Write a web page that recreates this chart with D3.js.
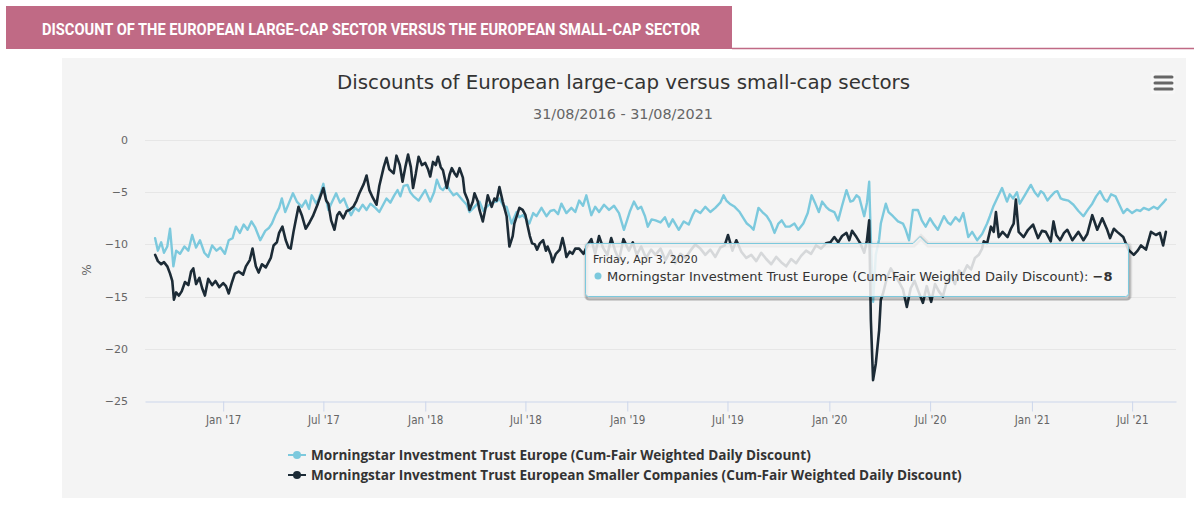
<!DOCTYPE html>
<html><head><meta charset="utf-8">
<script src="https://cdn.jsdelivr.net/npm/d3@7"></script>
<style>body{margin:0;background:#fff;} svg{display:block}</style>
</head><body><svg id="c" width="1194" height="506"></svg>
<script>
const headerTitle = "DISCOUNT OF THE EUROPEAN LARGE-CAP SECTOR VERSUS THE EUROPEAN SMALL-CAP SECTOR";
const chartTitle = "Discounts of European large-cap versus small-cap sectors";
const chartSubtitle = "31/08/2016 - 31/08/2021";
const yAxisTitle = "%";
const seriesNames = [
  "Morningstar Investment Trust Europe (Cum-Fair Weighted Daily Discount)",
  "Morningstar Investment Trust European Smaller Companies (Cum-Fair Weighted Daily Discount)"
];
const yTicks = [0, -5, -10, -15, -20, -25];
const xTickDates = ["2017-01-01","2017-07-01","2018-01-01","2018-07-01","2019-01-01","2019-07-01","2020-01-01","2020-07-01","2021-01-01","2021-07-01"];
const xRange = ["2016-08-31", "2021-08-31"];
const tooltipDate = "Friday, Apr 3, 2020";
const tooltipValue = -8;

const europe = [
["2016-08-31",-9.4],["2016-09-05",-10.6],["2016-09-11",-9.8],["2016-09-16",-10.8],["2016-09-22",-10.2],["2016-09-27",-8.5],
["2016-10-03",-12.1],["2016-10-08",-10.6],["2016-10-15",-10.9],["2016-10-23",-10.2],["2016-10-30",-10.6],["2016-11-06",-9.1],
["2016-11-13",-10.3],["2016-11-20",-9.6],["2016-11-28",-10.8],["2016-12-05",-11.2],["2016-12-12",-10.1],["2016-12-20",-10.6],
["2016-12-27",-10.3],["2017-01-04",-10.9],["2017-01-11",-9.6],["2017-01-18",-9.4],["2017-01-24",-8.3],["2017-01-31",-8.9],
["2017-02-07",-8.1],["2017-02-14",-8.6],["2017-02-21",-7.8],["2017-02-28",-8.4],["2017-03-09",-9.6],["2017-03-18",-8.7],
["2017-03-25",-8.4],["2017-03-30",-8.0],["2017-04-06",-7.1],["2017-04-12",-6.5],["2017-04-17",-5.6],["2017-04-23",-6.9],
["2017-04-30",-6.0],["2017-05-07",-5.1],["2017-05-14",-5.9],["2017-05-23",-6.4],["2017-05-30",-5.8],["2017-06-05",-6.6],
["2017-06-10",-5.3],["2017-06-18",-6.1],["2017-06-23",-5.6],["2017-07-01",-4.2],["2017-07-06",-5.7],["2017-07-10",-6.7],
["2017-07-17",-5.9],["2017-07-24",-5.1],["2017-07-31",-6.0],["2017-08-07",-5.6],["2017-08-13",-6.4],["2017-08-20",-7.2],
["2017-08-27",-6.5],["2017-09-03",-6.8],["2017-09-10",-6.2],["2017-09-17",-6.7],["2017-09-24",-6.1],["2017-10-03",-6.5],
["2017-10-10",-6.9],["2017-10-17",-6.2],["2017-10-23",-5.6],["2017-10-30",-6.0],["2017-11-06",-5.3],["2017-11-12",-4.8],
["2017-11-17",-5.4],["2017-11-23",-4.4],["2017-11-30",-4.3],["2017-12-05",-5.0],["2017-12-11",-5.4],["2017-12-20",-5.8],
["2017-12-27",-5.2],["2018-01-01",-4.8],["2018-01-10",-5.9],["2018-01-17",-5.0],["2018-01-22",-3.8],["2018-01-28",-4.6],
["2018-02-02",-4.8],["2018-02-09",-4.3],["2018-02-14",-4.8],["2018-02-21",-5.3],["2018-02-27",-5.1],["2018-03-10",-5.8],
["2018-03-17",-6.2],["2018-03-22",-6.9],["2018-03-31",-6.4],["2018-04-09",-5.9],["2018-04-16",-6.8],["2018-04-22",-6.4],
["2018-05-01",-6.0],["2018-05-10",-5.9],["2018-05-15",-5.6],["2018-05-22",-6.3],["2018-05-28",-6.4],["2018-06-06",-8.0],
["2018-06-15",-6.9],["2018-06-20",-7.4],["2018-06-26",-7.2],["2018-07-03",-7.6],["2018-07-08",-8.0],["2018-07-15",-7.0],
["2018-07-21",-7.3],["2018-07-30",-6.5],["2018-08-08",-7.3],["2018-08-15",-6.8],["2018-08-22",-6.7],["2018-08-29",-7.1],
["2018-09-04",-6.1],["2018-09-13",-7.0],["2018-09-22",-6.5],["2018-09-29",-6.9],["2018-10-06",-5.8],["2018-10-13",-6.3],
["2018-10-19",-5.3],["2018-10-28",-7.2],["2018-11-04",-6.4],["2018-11-11",-6.9],["2018-11-20",-6.2],["2018-11-29",-6.7],
["2018-12-08",-6.3],["2018-12-17",-7.0],["2018-12-26",-8.6],["2019-01-06",-6.8],["2019-01-13",-5.9],["2019-01-20",-6.6],
["2019-01-26",-6.4],["2019-02-02",-7.3],["2019-02-07",-8.3],["2019-02-14",-7.6],["2019-02-21",-7.7],["2019-03-02",-7.9],
["2019-03-10",-7.4],["2019-03-17",-8.3],["2019-03-24",-7.6],["2019-04-04",-8.6],["2019-04-13",-7.8],["2019-04-22",-8.1],
["2019-04-29",-7.2],["2019-05-04",-6.7],["2019-05-13",-7.0],["2019-05-22",-6.4],["2019-05-31",-6.9],["2019-06-09",-6.5],
["2019-06-18",-6.0],["2019-06-24",-5.3],["2019-06-29",-5.8],["2019-07-05",-6.1],["2019-07-14",-6.4],["2019-07-23",-6.9],
["2019-07-30",-7.5],["2019-08-05",-8.0],["2019-08-12",-8.3],["2019-08-17",-8.6],["2019-08-26",-6.5],["2019-09-02",-6.9],
["2019-09-10",-7.3],["2019-09-17",-7.9],["2019-09-24",-8.9],["2019-10-01",-8.0],["2019-10-07",-7.7],["2019-10-14",-8.3],
["2019-10-21",-8.3],["2019-10-30",-8.0],["2019-11-06",-8.6],["2019-11-15",-8.0],["2019-11-23",-7.0],["2019-11-30",-5.3],
["2019-12-06",-6.0],["2019-12-13",-6.9],["2019-12-19",-5.9],["2019-12-26",-6.4],["2020-01-01",-6.7],["2020-01-10",-6.9],
["2020-01-17",-7.7],["2020-01-24",-6.3],["2020-02-01",-4.8],["2020-02-08",-5.9],["2020-02-13",-5.8],["2020-02-19",-5.3],
["2020-02-24",-5.5],["2020-03-04",-7.3],["2020-03-09",-6.0],["2020-03-13",-4.0],["2020-03-16",-9.5],["2020-03-20",-15.5],
["2020-03-25",-11.0],["2020-03-31",-9.5],["2020-04-03",-8.0],["2020-04-12",-6.1],["2020-04-17",-6.9],["2020-04-25",-7.3],
["2020-05-04",-7.8],["2020-05-13",-8.0],["2020-05-18",-8.6],["2020-05-24",-9.6],["2020-05-31",-6.7],["2020-06-09",-6.7],
["2020-06-16",-7.7],["2020-06-23",-8.3],["2020-07-01",-7.5],["2020-07-08",-8.1],["2020-07-15",-8.6],["2020-07-26",-7.3],
["2020-08-02",-7.9],["2020-08-07",-8.1],["2020-08-16",-7.4],["2020-08-23",-7.8],["2020-08-30",-7.0],["2020-09-08",-9.3],
["2020-09-15",-8.8],["2020-09-24",-9.6],["2020-10-03",-9.0],["2020-10-12",-8.0],["2020-10-17",-7.3],["2020-10-23",-6.4],
["2020-10-30",-5.6],["2020-11-08",-4.6],["2020-11-17",-5.9],["2020-11-22",-5.2],["2020-11-28",-5.6],["2020-12-05",-5.0],
["2020-12-10",-6.1],["2020-12-19",-5.3],["2020-12-30",-4.3],["2021-01-06",-5.0],["2021-01-12",-5.4],["2021-01-17",-4.9],
["2021-01-22",-5.1],["2021-01-29",-5.8],["2021-02-04",-5.4],["2021-02-11",-5.0],["2021-02-16",-4.9],["2021-02-22",-5.6],
["2021-02-27",-5.7],["2021-03-08",-5.8],["2021-03-17",-6.2],["2021-03-26",-6.8],["2021-04-04",-7.3],["2021-04-13",-6.6],
["2021-04-20",-6.1],["2021-04-27",-5.4],["2021-05-04",-4.9],["2021-05-12",-5.7],["2021-05-17",-5.9],["2021-05-24",-5.2],
["2021-06-01",-5.4],["2021-06-08",-6.2],["2021-06-15",-7.0],["2021-06-22",-6.6],["2021-07-01",-7.0],["2021-07-09",-6.7],
["2021-07-16",-6.8],["2021-07-22",-6.5],["2021-07-31",-6.7],["2021-08-09",-6.4],["2021-08-16",-6.6],["2021-08-21",-6.3],
["2021-08-28",-5.9],["2021-08-31",-5.7]
];

const smaller = [
["2016-08-31",-11.0],["2016-09-05",-11.6],["2016-09-11",-11.9],["2016-09-16",-11.7],["2016-09-22",-12.1],["2016-09-27",-12.8],
["2016-10-01",-13.5],["2016-10-04",-15.3],["2016-10-08",-14.6],["2016-10-13",-14.9],["2016-10-18",-14.5],["2016-10-24",-13.6],
["2016-10-30",-13.9],["2016-11-04",-12.6],["2016-11-08",-12.3],["2016-11-13",-13.8],["2016-11-19",-13.2],["2016-11-24",-14.2],
["2016-11-29",-14.9],["2016-12-05",-13.3],["2016-12-12",-13.9],["2016-12-18",-13.5],["2016-12-25",-14.1],["2017-01-01",-13.7],
["2017-01-06",-14.0],["2017-01-11",-14.7],["2017-01-17",-13.6],["2017-01-22",-12.8],["2017-01-29",-12.6],["2017-02-06",-12.9],
["2017-02-11",-12.1],["2017-02-18",-11.5],["2017-02-23",-10.4],["2017-03-01",-12.1],["2017-03-06",-12.7],["2017-03-12",-11.9],
["2017-03-19",-12.2],["2017-03-28",-11.3],["2017-04-02",-10.1],["2017-04-08",-9.8],["2017-04-12",-8.9],["2017-04-18",-8.3],
["2017-04-24",-9.6],["2017-04-29",-10.3],["2017-05-03",-10.4],["2017-05-08",-8.8],["2017-05-12",-7.7],["2017-05-17",-6.4],
["2017-05-23",-7.2],["2017-05-30",-8.5],["2017-06-06",-7.9],["2017-06-12",-7.3],["2017-06-21",-6.1],["2017-07-01",-4.6],
["2017-07-06",-5.8],["2017-07-10",-6.1],["2017-07-15",-7.7],["2017-07-21",-8.6],["2017-07-26",-7.2],["2017-07-30",-6.9],
["2017-08-06",-7.5],["2017-08-12",-6.8],["2017-08-17",-6.7],["2017-08-24",-6.4],["2017-08-30",-5.8],["2017-09-04",-5.1],
["2017-09-12",-4.2],["2017-09-17",-3.4],["2017-09-22",-4.8],["2017-09-28",-5.5],["2017-10-05",-6.2],["2017-10-10",-4.4],
["2017-10-18",-2.6],["2017-10-23",-1.7],["2017-10-28",-2.8],["2017-11-05",-3.2],["2017-11-10",-1.5],["2017-11-16",-2.4],
["2017-11-21",-4.0],["2017-11-26",-2.6],["2017-12-01",-1.4],["2017-12-06",-2.6],["2017-12-10",-4.6],["2017-12-15",-3.2],
["2017-12-20",-1.6],["2017-12-26",-2.4],["2018-01-01",-2.2],["2018-01-06",-2.8],["2018-01-10",-3.5],["2018-01-15",-2.1],
["2018-01-20",-2.4],["2018-01-24",-1.6],["2018-01-29",-2.6],["2018-02-02",-2.9],["2018-02-09",-4.6],["2018-02-14",-3.3],
["2018-02-18",-2.7],["2018-02-23",-3.2],["2018-02-27",-3.5],["2018-03-04",-2.7],["2018-03-10",-3.6],["2018-03-13",-5.0],
["2018-03-19",-5.8],["2018-03-22",-6.7],["2018-03-28",-5.9],["2018-03-31",-5.1],["2018-04-06",-5.9],["2018-04-09",-6.7],
["2018-04-15",-7.8],["2018-04-20",-6.5],["2018-04-24",-5.3],["2018-05-01",-6.4],["2018-05-06",-5.6],["2018-05-10",-5.8],
["2018-05-15",-4.5],["2018-05-21",-5.9],["2018-05-28",-7.3],["2018-06-02",-10.2],["2018-06-08",-9.2],["2018-06-11",-8.0],
["2018-06-17",-7.0],["2018-06-20",-6.5],["2018-06-26",-6.7],["2018-07-01",-7.2],["2018-07-04",-8.0],["2018-07-09",-9.2],
["2018-07-13",-9.9],["2018-07-18",-10.0],["2018-07-22",-10.5],["2018-07-27",-9.9],["2018-08-02",-9.6],["2018-08-07",-10.6],
["2018-08-10",-10.2],["2018-08-16",-11.0],["2018-08-19",-11.7],["2018-08-25",-10.9],["2018-09-01",-10.5],["2018-09-06",-9.4],
["2018-09-10",-10.3],["2018-09-13",-11.2],["2018-09-19",-10.7],["2018-09-24",-10.9],["2018-09-29",-10.4],["2018-10-06",-10.4],
["2018-10-14",-10.9],["2018-10-21",-10.1],["2018-10-28",-9.5],["2018-11-04",-10.9],["2018-11-11",-9.2],["2018-11-18",-10.3],
["2018-11-26",-11.0],["2018-12-03",-9.4],["2018-12-10",-10.6],["2018-12-17",-11.5],["2018-12-25",-9.5],["2019-01-04",-10.6],
["2019-01-11",-9.8],["2019-01-18",-11.0],["2019-01-26",-10.2],["2019-02-04",-11.3],["2019-02-13",-10.5],["2019-02-21",-11.0],
["2019-03-02",-10.4],["2019-03-11",-11.5],["2019-03-20",-10.6],["2019-03-29",-11.8],["2019-04-07",-10.9],["2019-04-16",-11.3],
["2019-04-25",-10.6],["2019-05-04",-10.0],["2019-05-13",-10.4],["2019-05-22",-11.0],["2019-05-31",-10.5],["2019-06-09",-11.2],
["2019-06-18",-10.3],["2019-06-26",-10.1],["2019-07-02",-9.1],["2019-07-10",-10.6],["2019-07-17",-9.6],["2019-07-26",-10.7],
["2019-08-04",-11.3],["2019-08-13",-11.0],["2019-08-22",-11.6],["2019-08-31",-10.8],["2019-09-09",-11.4],["2019-09-18",-11.9],
["2019-09-27",-11.2],["2019-10-06",-11.7],["2019-10-15",-12.1],["2019-10-24",-11.4],["2019-11-02",-11.8],["2019-11-11",-11.1],
["2019-11-20",-10.6],["2019-11-29",-10.9],["2019-12-08",-10.1],["2019-12-17",-10.4],["2019-12-26",-9.9],["2020-01-03",-9.8],
["2020-01-10",-9.3],["2020-01-17",-9.8],["2020-01-24",-9.2],["2020-02-01",-8.9],["2020-02-06",-9.6],["2020-02-11",-8.7],
["2020-02-19",-9.3],["2020-02-26",-9.9],["2020-03-04",-10.8],["2020-03-09",-9.6],["2020-03-13",-7.7],["2020-03-16",-17.2],
["2020-03-20",-23.0],["2020-03-25",-21.4],["2020-03-31",-18.2],["2020-04-03",-15.3],["2020-04-07",-14.7],["2020-04-14",-13.2],
["2020-04-21",-12.3],["2020-04-28",-12.9],["2020-05-06",-13.6],["2020-05-13",-14.3],["2020-05-20",-16.0],["2020-05-27",-14.2],
["2020-06-03",-13.5],["2020-06-10",-14.5],["2020-06-18",-15.6],["2020-06-25",-14.0],["2020-07-03",-15.5],["2020-07-10",-13.8],
["2020-07-17",-14.5],["2020-07-24",-15.0],["2020-07-31",-13.6],["2020-08-08",-13.0],["2020-08-15",-13.8],["2020-08-22",-12.5],
["2020-08-29",-12.9],["2020-09-06",-12.0],["2020-09-13",-12.4],["2020-09-20",-11.3],["2020-09-27",-11.0],["2020-10-03",-10.4],
["2020-10-06",-9.7],["2020-10-12",-9.9],["2020-10-19",-8.3],["2020-10-24",-8.8],["2020-10-28",-6.9],["2020-11-02",-9.3],
["2020-11-09",-8.8],["2020-11-18",-9.3],["2020-11-24",-8.5],["2020-11-29",-8.0],["2020-12-03",-5.7],["2020-12-08",-8.8],
["2020-12-17",-9.3],["2020-12-25",-8.6],["2021-01-03",-8.1],["2021-01-12",-9.4],["2021-01-19",-8.7],["2021-01-26",-8.8],
["2021-02-04",-9.7],["2021-02-09",-7.8],["2021-02-14",-9.1],["2021-02-21",-9.6],["2021-02-28",-8.9],["2021-03-06",-8.6],
["2021-03-15",-9.6],["2021-03-26",-8.8],["2021-04-04",-9.6],["2021-04-11",-9.0],["2021-04-20",-7.2],["2021-04-29",-8.6],
["2021-05-08",-7.5],["2021-05-17",-8.6],["2021-05-22",-9.4],["2021-05-29",-8.5],["2021-06-04",-8.8],["2021-06-15",-9.3],
["2021-06-24",-10.5],["2021-07-04",-11.0],["2021-07-11",-10.6],["2021-07-17",-10.1],["2021-07-26",-10.5],["2021-08-04",-8.8],
["2021-08-13",-9.1],["2021-08-20",-8.9],["2021-08-26",-10.1],["2021-08-31",-8.8]
];

const colors = ["#7cc9dd", "#1c2b36"];

const svg = d3.select("#c");
const parse = d3.timeParse("%Y-%m-%d");
const W = 1194;

// header banner
svg.append("line").attr("x1", 732).attr("x2", W).attr("y1", 48.5).attr("y2", 48.5)
  .attr("stroke", "#c06a85").attr("stroke-width", 1.5);
svg.append("rect").attr("x", 6).attr("y", 6).attr("width", 726).attr("height", 43).attr("fill", "#c06a85");
svg.append("text").attr("x", 42).attr("y", 35).text(headerTitle)
  .attr("font-family", "Roboto, 'DejaVu Sans Condensed', sans-serif").attr("font-weight", 700)
  .attr("font-size", 16).attr("fill", "#fff")
  .attr("textLength", 658).attr("lengthAdjust", "spacingAndGlyphs");

// container
const box = {x: 62, y: 58, w: 1124, h: 440};
svg.append("rect").attr("x", box.x).attr("y", box.y).attr("width", box.w).attr("height", box.h).attr("fill", "#f4f4f4");

// titles
svg.append("text").attr("x", 337).attr("y", 89).text(chartTitle)
  .attr("font-family", "'DejaVu Sans Condensed', sans-serif").attr("font-weight", 300).attr("font-size", 19).attr("fill", "#333")
  .attr("textLength", 573).attr("lengthAdjust", "spacingAndGlyphs");
svg.append("text").attr("x", 533).attr("y", 119).text(chartSubtitle)
  .attr("font-family", "'DejaVu Sans Condensed', sans-serif").attr("font-size", 13.5).attr("fill", "#666")
  .attr("textLength", 180).attr("lengthAdjust", "spacingAndGlyphs");

// menu button
svg.append("rect").attr("x", 1151).attr("y", 72).attr("width", 24).attr("height", 22).attr("rx", 2).attr("fill", "#f7f7f7");
[77, 83, 89].forEach(yy => svg.append("line").attr("x1", 1155).attr("x2", 1172).attr("y1", yy).attr("y2", yy)
  .attr("stroke", "#666").attr("stroke-width", 3).attr("stroke-linecap", "round"));

// scales
const t0 = parse(xRange[0]), t1 = parse(xRange[1]);
const pad = (t1 - t0) * 0.01;
const x = d3.scaleTime().domain([new Date(+t0 - pad), new Date(+t1 + pad)]).range([145, 1176]);
const y = d3.scaleLinear().domain([-25, 0]).range([401, 140]);

// grid
svg.append("g").selectAll("line").data(yTicks.filter(v => v !== -25)).join("line")
  .attr("x1", 145).attr("x2", 1176).attr("y1", d => Math.round(y(d)) + 0.5).attr("y2", d => Math.round(y(d)) + 0.5)
  .attr("stroke", "#e6e6e6");

// y axis labels
const fmt = d3.format("d");
svg.append("g").selectAll("text").data(yTicks).join("text")
  .attr("x", 128).attr("y", d => y(d) + 4).attr("text-anchor", "end").text(d => fmt(d))
  .attr("font-family", "'DejaVu Sans', sans-serif").attr("font-size", 11).attr("fill", "#666");
svg.append("text").attr("transform", "translate(91,270) rotate(-90)").attr("text-anchor", "middle").text(yAxisTitle)
  .attr("font-family", "'DejaVu Sans', sans-serif").attr("font-size", 12).attr("fill", "#666");

// x axis
const xAxis = d3.axisBottom(x).tickValues(xTickDates.map(parse)).tickFormat(d3.timeFormat("%b '%y")).tickSize(10).tickSizeOuter(0);
const gx = svg.append("g").attr("transform", "translate(0,401.5)").call(xAxis);
gx.select(".domain").attr("stroke", "#ccd6eb");
gx.selectAll(".tick line").attr("stroke", "#ccd6eb");
gx.selectAll(".tick text").attr("fill", "#666").attr("font-family", "'DejaVu Sans Condensed', sans-serif").attr("font-size", 11.5).attr("dy", "0.85em");

// lines
const line = d3.line().x(d => x(parse(d[0]))).y(d => y(d[1])).curve(d3.curveLinear);
[europe, smaller].forEach((s, i) => {
  svg.append("path").datum(s).attr("d", line).attr("fill", "none").attr("stroke", colors[i])
    .attr("stroke-width", i ? 2.6 : 2.4).attr("stroke-linejoin", "round").attr("stroke-linecap", "round");
});

// legend
seriesNames.forEach((name, i) => {
  const ly = 455 + i * 20;
  svg.append("line").attr("x1", 288).attr("x2", 306).attr("y1", ly).attr("y2", ly).attr("stroke", colors[i]).attr("stroke-width", 2);
  svg.append("circle").attr("cx", 297).attr("cy", ly).attr("r", 4).attr("fill", colors[i]);
  svg.append("text").attr("x", 311).attr("y", ly + 5).text(name)
    .attr("font-family", "'Open Sans', sans-serif").attr("font-weight", 700).attr("font-size", 13.6).attr("fill", "#333");
});

// tooltip
const tt = svg.append("g");
const tb = {x: 585.5, y: 243.5, w: 543, h: 53};
const px = 920;
const pathD = `M${tb.x + 3},${tb.y} H${px - 7} L${px},${tb.y - 7} L${px + 7},${tb.y} H${tb.x + tb.w - 3}
  Q${tb.x + tb.w},${tb.y} ${tb.x + tb.w},${tb.y + 3} V${tb.y + tb.h - 3} Q${tb.x + tb.w},${tb.y + tb.h} ${tb.x + tb.w - 3},${tb.y + tb.h}
  H${tb.x + 3} Q${tb.x},${tb.y + tb.h} ${tb.x},${tb.y + tb.h - 3} V${tb.y + 3} Q${tb.x},${tb.y} ${tb.x + 3},${tb.y} Z`;
[3, 2, 1].forEach(o => tt.append("path").attr("d", pathD).attr("transform", `translate(1,${o})`)
  .attr("fill", "none").attr("stroke", "#000").attr("stroke-opacity", 0.05 * o).attr("stroke-width", 2 * (4 - o)));
tt.append("path").attr("d", pathD).attr("fill", "rgba(247,247,247,0.85)").attr("stroke", colors[0]).attr("stroke-width", 1);
tt.append("text").attr("x", 593).attr("y", 263).text(tooltipDate)
  .attr("font-family", "'DejaVu Sans', sans-serif").attr("font-size", 11).attr("fill", "#333");
tt.append("circle").attr("cx", 598).attr("cy", 276).attr("r", 3.5).attr("fill", colors[0]);
const t2 = tt.append("text").attr("x", 607).attr("y", 281)
  .attr("font-family", "'DejaVu Sans', sans-serif").attr("font-size", 13).attr("fill", "#333");
t2.append("tspan").text(seriesNames[0] + ": ");
t2.append("tspan").attr("font-weight", 700).text(d3.format("d")(tooltipValue));
</script></body></html>
